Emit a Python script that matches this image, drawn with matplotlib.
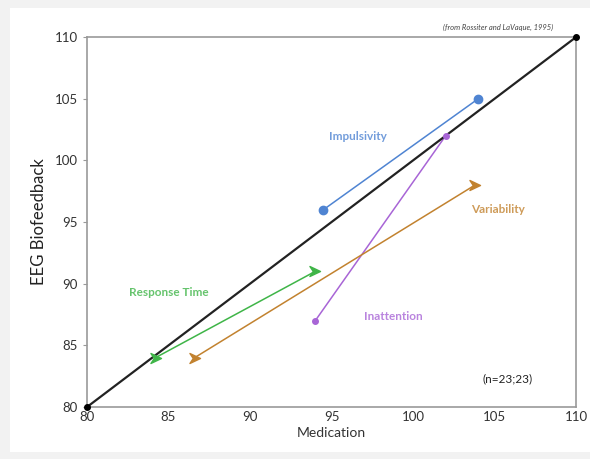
import numpy as np
import matplotlib
matplotlib.use("Agg")
import matplotlib.pyplot as plt
from matplotlib.path import Path
from matplotlib.patches import Rectangle

# data (medication, EEG biofeedback)
names = ["Impulsivity", "Inattention", "Variability", "Response Time"]
med_start = [94.5, 94.0, 86.6, 84.2]
med_end = [104.0, 102.0, 103.8, 94.0]
eeg_start = [96.0, 87.0, 84.0, 84.0]
eeg_end = [105.0, 102.0, 98.0, 91.0]
colors = ["#4f84d2", "#a865d6", "#c2822f", "#3fb548"]
label_xy = [(96.6, 101.9), (98.8, 87.3), (105.2, 96.0), (85.0, 89.3)]

diag = [80, 110]

plt.rcParams['font.family'] = ['Lato', 'DejaVu Sans']

fig = plt.figure(figsize=(5.9, 4.59), dpi=100, facecolor="#f2f2f2")
bg = Rectangle((10 / 590, 7 / 459), 580 / 590, 444 / 459,
               transform=fig.transFigure, facecolor="white",
               edgecolor="none", zorder=-10)
fig.add_artist(bg)
ax = fig.add_axes([0.1475, 0.1133, 0.829, 0.806])
ax.set_facecolor("white")

# identity line
ax.plot(diag, diag, color="#222222", lw=1.6, zorder=3)
ax.plot(diag, diag, "o", color="black", ms=4, clip_on=False, zorder=5)

# notched arrow marker
fletch = Path([(-1, 0.9), (0.9, 0), (-1, -0.9), (-0.4, 0), (-1, 0.9)],
              [Path.MOVETO, Path.LINETO, Path.LINETO, Path.LINETO, Path.CLOSEPOLY])

for i in range(len(names)):
    ax.plot([med_start[i], med_end[i]], [eeg_start[i], eeg_end[i]],
            color=colors[i], lw=1.1, zorder=2)
    if i == 0:
        ax.plot([med_start[i], med_end[i]], [eeg_start[i], eeg_end[i]], "o",
                color=colors[i], ms=6, zorder=4)
    elif i == 1:
        ax.plot([med_start[i], med_end[i]], [eeg_start[i], eeg_end[i]], "o",
                color=colors[i], ms=4, zorder=4)
    else:
        ax.plot([med_start[i]], [eeg_start[i]], marker=fletch, color=colors[i],
                ms=8, zorder=4)
        ax.plot([med_end[i]], [eeg_end[i]], marker=fletch, color=colors[i],
                ms=8, zorder=4)
    ax.text(label_xy[i][0], label_xy[i][1], names[i], color=colors[i],
            fontsize=8.5, fontweight="bold", ha="center", va="center", alpha=0.8)

ax.text(105.8, 82.3, "(n=23;23)", fontsize=8.5, color="#222222",
        ha="center", va="center")
ax.text(108.6, 110.5, "(from Rossiter and LaVaque, 1995)", fontsize=5.5,
        style="italic", color="#444444", ha="right", va="bottom")

ax.set_xlim(80, 110)
ax.set_ylim(80, 110)
ax.set_xticks(np.arange(80, 111, 5))
ax.set_yticks(np.arange(80, 111, 5))
for s in ax.spines.values():
    s.set_color("#999999")
    s.set_linewidth(1.2)
ax.tick_params(axis="both", colors="#999999", labelcolor="#333333",
               labelsize=9.5, length=3)
ax.tick_params(axis="x", length=0, pad=3)
ax.set_xlabel("Medication", fontsize=10, color="#333333", labelpad=3)
ax.set_ylabel("EEG Biofeedback", fontsize=12, color="#222222", labelpad=6)

fig.savefig("out.png", dpi=100, facecolor=fig.get_facecolor())
